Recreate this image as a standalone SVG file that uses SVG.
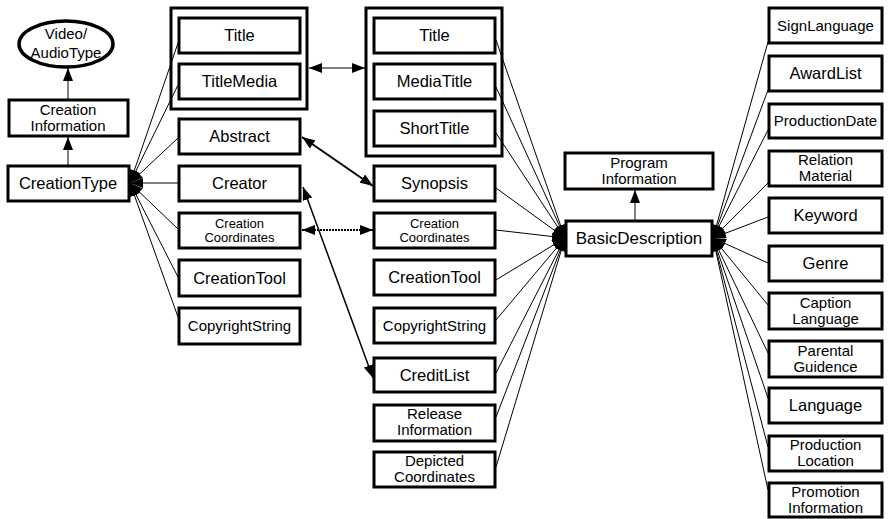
<svg xmlns="http://www.w3.org/2000/svg" width="891" height="519" viewBox="0 0 891 519">
  <style>
    .box { fill: #fff; stroke: #000; stroke-width: 3; }
    .grp { fill: none; stroke: #000; stroke-width: 3; }
    text { font-family: "Liberation Sans", Arial, sans-serif; fill: #000; text-anchor: middle; }
    .t17 { font-size: 16.5px; }
    .t15 { font-size: 15px; }
    .t13 { font-size: 13px; }
    .ln { fill: none; stroke: #000; stroke-width: 1; }
    .arr { marker-end: url(#head); }
  </style>
  <defs>
    <marker id="head" markerUnits="userSpaceOnUse" markerWidth="14" markerHeight="10" refX="13" refY="5" orient="auto">
      <path d="M0,0 L13,5 L0,10 z" fill="#000"/>
    </marker>
    <marker id="dhead" markerUnits="userSpaceOnUse" markerWidth="14" markerHeight="10" refX="13" refY="5" orient="auto-start-reverse">
      <path d="M0,0 L13,5 L0,10 z" fill="#000"/>
    </marker>
  </defs>

  <!-- connectors -->
  <g id="connectors">
    <!-- children of CreationType -->
    <line class="ln arr" x1="178" y1="43" x2="130" y2="183"/>
    <line class="ln arr" x1="178" y1="85" x2="130" y2="183"/>
    <line class="ln arr" x1="178" y1="138" x2="130" y2="183"/>
    <line class="ln arr" x1="178" y1="183" x2="130" y2="183"/>
    <line class="ln arr" x1="178" y1="229" x2="130" y2="183"/>
    <line class="ln arr" x1="178" y1="277" x2="130" y2="183"/>
    <line class="ln arr" x1="178" y1="317" x2="130" y2="183"/>
    <!-- inheritance arrows -->
    <line class="ln arr" x1="68" y1="165" x2="68" y2="137"/>
    <line class="ln arr" x1="68" y1="99" x2="68" y2="68"/>
    <line class="ln arr" x1="635" y1="220" x2="635" y2="190"/>
    <!-- children of BasicDescription, left side -->
    <line class="ln arr" x1="496" y1="40" x2="565" y2="238"/>
    <line class="ln arr" x1="496" y1="87" x2="565" y2="238"/>
    <line class="ln arr" x1="496" y1="133" x2="565" y2="238"/>
    <line class="ln arr" x1="496" y1="188" x2="565" y2="238"/>
    <line class="ln arr" x1="496" y1="230" x2="565" y2="238"/>
    <line class="ln arr" x1="496" y1="280" x2="565" y2="238"/>
    <line class="ln arr" x1="496" y1="320" x2="565" y2="238"/>
    <line class="ln arr" x1="496" y1="373" x2="565" y2="238"/>
    <line class="ln arr" x1="496" y1="417" x2="565" y2="238"/>
    <line class="ln arr" x1="496" y1="467" x2="565" y2="238"/>
    <!-- children of BasicDescription, right side -->
    <line class="ln arr" x1="768" y1="42" x2="713" y2="238"/>
    <line class="ln arr" x1="768" y1="90" x2="713" y2="238"/>
    <line class="ln arr" x1="768" y1="130" x2="713" y2="238"/>
    <line class="ln arr" x1="768" y1="183" x2="713" y2="238"/>
    <line class="ln arr" x1="768" y1="217" x2="713" y2="238"/>
    <line class="ln arr" x1="768" y1="263" x2="713" y2="238"/>
    <line class="ln arr" x1="768" y1="305" x2="713" y2="238"/>
    <line class="ln arr" x1="768" y1="353" x2="713" y2="238"/>
    <line class="ln arr" x1="768" y1="398" x2="713" y2="238"/>
    <line class="ln arr" x1="768" y1="447" x2="713" y2="238"/>
    <line class="ln arr" x1="768" y1="490" x2="713" y2="238"/>
    <!-- equivalences between the two description sets -->
    <line x1="309" y1="68" x2="365" y2="68" stroke="#000" stroke-width="1" marker-start="url(#dhead)" marker-end="url(#dhead)"/>
    <line x1="302" y1="137" x2="373" y2="186" stroke="#000" stroke-width="2" marker-start="url(#dhead)" marker-end="url(#dhead)"/>
    <line x1="303" y1="187" x2="373" y2="378" stroke="#000" stroke-width="1.5" marker-start="url(#dhead)" marker-end="url(#dhead)"/>
    <line x1="302" y1="230" x2="373" y2="230" stroke="#000" stroke-width="2.2" stroke-dasharray="2,1" marker-start="url(#dhead)" marker-end="url(#dhead)"/>
  </g>

  <!-- left hierarchy -->
  <g id="VideoAudioType">
    <ellipse cx="66" cy="44" rx="47" ry="23" fill="#fff" stroke="#000" stroke-width="3.5"/>
    <text class="t15" x="66" y="39">Video/</text>
    <text class="t15" x="66" y="58">AudioType</text>
  </g>
  <g id="CreationInformation">
    <rect class="box" x="9" y="100" width="119" height="36"/>
    <text class="t15" x="68" y="115">Creation</text>
    <text class="t15" x="68" y="131">Information</text>
  </g>
  <g id="CreationType">
    <rect class="box" x="8" y="166" width="121" height="35"/>
    <text class="t17" x="68" y="189">CreationType</text>
  </g>

  <!-- CreationType members -->
  <rect class="grp" x="171" y="8" width="136" height="101"/>
  <g id="L_Title">
    <rect class="box" x="179" y="18" width="121" height="35"/>
    <text class="t17" x="239.5" y="41">Title</text>
  </g>
  <g id="L_TitleMedia">
    <rect class="box" x="179" y="64" width="121" height="35"/>
    <text class="t17" x="239.5" y="87">TitleMedia</text>
  </g>
  <g id="L_Abstract">
    <rect class="box" x="179" y="119" width="121" height="35"/>
    <text class="t17" x="239.5" y="142">Abstract</text>
  </g>
  <g id="L_Creator">
    <rect class="box" x="179" y="166" width="121" height="35"/>
    <text class="t17" x="239.5" y="189">Creator</text>
  </g>
  <g id="L_CreationCoordinates">
    <rect class="box" x="179" y="213" width="121" height="35"/>
    <text class="t13" x="239.5" y="228">Creation</text>
    <text class="t13" x="239.5" y="242">Coordinates</text>
  </g>
  <g id="L_CreationTool">
    <rect class="box" x="179" y="260" width="121" height="36"/>
    <text class="t17" x="239.5" y="284">CreationTool</text>
  </g>
  <g id="L_CopyrightString">
    <rect class="box" x="179" y="308" width="121" height="36"/>
    <text class="t15" x="239.5" y="331">CopyrightString</text>
  </g>

  <!-- BasicDescription members -->
  <rect class="grp" x="366" y="8" width="136" height="148"/>
  <g id="M_Title">
    <rect class="box" x="374" y="18" width="121" height="35"/>
    <text class="t17" x="434.5" y="41">Title</text>
  </g>
  <g id="M_MediaTitle">
    <rect class="box" x="374" y="64" width="121" height="35"/>
    <text class="t17" x="434.5" y="87">MediaTitle</text>
  </g>
  <g id="M_ShortTitle">
    <rect class="box" x="374" y="111" width="121" height="35"/>
    <text class="t17" x="434.5" y="134">ShortTitle</text>
  </g>
  <g id="M_Synopsis">
    <rect class="box" x="374" y="166" width="121" height="35"/>
    <text class="t17" x="434.5" y="189">Synopsis</text>
  </g>
  <g id="M_CreationCoordinates">
    <rect class="box" x="374" y="213" width="121" height="35"/>
    <text class="t13" x="434.5" y="228">Creation</text>
    <text class="t13" x="434.5" y="242">Coordinates</text>
  </g>
  <g id="M_CreationTool">
    <rect class="box" x="374" y="260" width="121" height="35"/>
    <text class="t17" x="434.5" y="283">CreationTool</text>
  </g>
  <g id="M_CopyrightString">
    <rect class="box" x="374" y="308" width="121" height="35"/>
    <text class="t15" x="434.5" y="331">CopyrightString</text>
  </g>
  <g id="M_CreditList">
    <rect class="box" x="374" y="358" width="121" height="34"/>
    <text class="t17" x="434.5" y="381">CreditList</text>
  </g>
  <g id="M_ReleaseInformation">
    <rect class="box" x="374" y="405" width="121" height="36"/>
    <text class="t15" x="434.5" y="419">Release</text>
    <text class="t15" x="434.5" y="435">Information</text>
  </g>
  <g id="M_DepictedCoordinates">
    <rect class="box" x="374" y="452" width="121" height="35"/>
    <text class="t15" x="434.5" y="466">Depicted</text>
    <text class="t15" x="434.5" y="482">Coordinates</text>
  </g>

  <!-- central nodes -->
  <g id="ProgramInformation">
    <rect class="box" x="565" y="153" width="148" height="36"/>
    <text class="t15" x="639" y="168">Program</text>
    <text class="t15" x="639" y="184">Information</text>
  </g>
  <g id="BasicDescription">
    <rect class="box" x="566" y="221" width="146" height="35"/>
    <text class="t17" x="639" y="244" style="font-size:17px">BasicDescription</text>
  </g>

  <!-- right column -->
  <g id="R_SignLanguage">
    <rect class="box" x="769" y="8" width="113" height="35"/>
    <text class="t15" x="825.5" y="31">SignLanguage</text>
  </g>
  <g id="R_AwardList">
    <rect class="box" x="769" y="56" width="113" height="35"/>
    <text class="t17" x="825.5" y="79">AwardList</text>
  </g>
  <g id="R_ProductionDate">
    <rect class="box" x="769" y="104" width="113" height="34"/>
    <text class="t15" x="825.5" y="126">ProductionDate</text>
  </g>
  <g id="R_RelationMaterial">
    <rect class="box" x="769" y="151" width="113" height="35"/>
    <text class="t15" x="825.5" y="165">Relation</text>
    <text class="t15" x="825.5" y="181">Material</text>
  </g>
  <g id="R_Keyword">
    <rect class="box" x="769" y="198" width="113" height="35"/>
    <text class="t17" x="825.5" y="221">Keyword</text>
  </g>
  <g id="R_Genre">
    <rect class="box" x="769" y="246" width="113" height="35"/>
    <text class="t17" x="825.5" y="269">Genre</text>
  </g>
  <g id="R_CaptionLanguage">
    <rect class="box" x="769" y="293" width="113" height="36"/>
    <text class="t15" x="825.5" y="308">Caption</text>
    <text class="t15" x="825.5" y="324">Language</text>
  </g>
  <g id="R_ParentalGuidence">
    <rect class="box" x="769" y="341" width="113" height="36"/>
    <text class="t15" x="825.5" y="356">Parental</text>
    <text class="t15" x="825.5" y="372">Guidence</text>
  </g>
  <g id="R_Language">
    <rect class="box" x="769" y="388" width="113" height="35"/>
    <text class="t17" x="825.5" y="411">Language</text>
  </g>
  <g id="R_ProductionLocation">
    <rect class="box" x="769" y="436" width="113" height="35"/>
    <text class="t15" x="825.5" y="450">Production</text>
    <text class="t15" x="825.5" y="466">Location</text>
  </g>
  <g id="R_PromotionInformation">
    <rect class="box" x="769" y="483" width="113" height="34"/>
    <text class="t15" x="825.5" y="497">Promotion</text>
    <text class="t15" x="825.5" y="513">Information</text>
  </g>
</svg>
